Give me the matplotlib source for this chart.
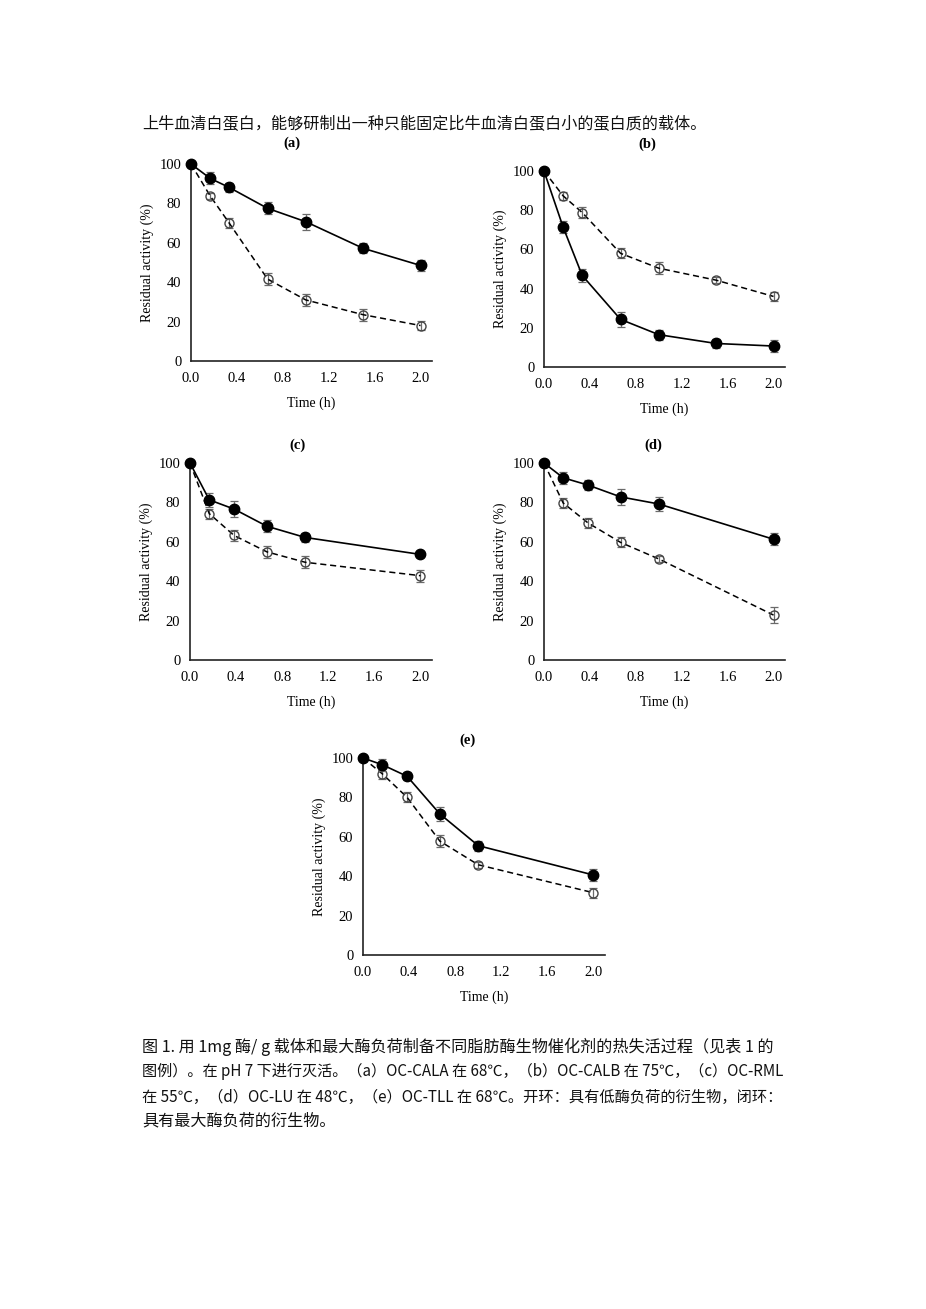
import matplotlib
matplotlib.use("Agg")
import matplotlib.pyplot as plt

# sampling times (h)
t_ab = [0, 0.167, 0.333, 0.667, 1.0, 1.5, 2.0]
t_cde = [0, 0.167, 0.383, 0.667, 1.0, 2.0]

panel_names = ["(a)", "(b)", "(c)", "(d)", "(e)"]

# closed circles: maximum enzyme loading
closed_a = [100, 92.7, 88.1, 77.5, 70.7, 57.2, 48.5]
closed_a_err = [0, 3, 2.5, 3, 4, 2.5, 3]
closed_b = [100, 71.3, 46.7, 24.3, 16.5, 12.0, 10.7]
closed_b_err = [0, 3, 3.5, 4, 2.5, 2.5, 3]
closed_c = [100, 81.3, 76.6, 67.9, 62.2, 53.6]
closed_c_err = [0, 3.5, 4, 3, 2.5, 1.5]
closed_d = [100, 92.5, 88.8, 82.8, 79.2, 61.3]
closed_d_err = [0, 3, 2.5, 4, 3.5, 3]
closed_e = [100, 96.6, 90.7, 71.6, 55.5, 40.6]
closed_e_err = [0, 3, 2, 3.5, 2.5, 3]

# open circles: low enzyme loading
open_a = [100, 83.8, 70.0, 41.6, 31.0, 23.5, 18.0]
open_a_err = [0, 1.5, 2.5, 3, 3, 3, 2.5]
open_b = [100, 87.3, 78.8, 58.0, 50.4, 44.3, 36.0]
open_b_err = [0, 2, 3, 2.5, 3, 1.5, 2.5]
open_c = [100, 74.3, 63.2, 54.9, 49.6, 42.8]
open_c_err = [0, 2.5, 3, 3, 3, 3]
open_d = [100, 79.7, 69.6, 59.7, 51.3, 22.8]
open_d_err = [0, 2.5, 2.5, 2.5, 1.5, 4]
open_e = [100, 92.0, 80.0, 57.8, 45.8, 31.6]
open_e_err = [0, 2.5, 2.5, 3, 1.5, 2.5]

x_ticks = [0.0, 0.4, 0.8, 1.2, 1.6, 2.0]
y_ticks = [0, 20, 40, 60, 80, 100]

header = "上牛血清白蛋白，能够研制出一种只能固定比牛血清白蛋白小的蛋白质的载体。"
caption = [
    "图 1. 用 1mg 酶/ g 载体和最大酶负荷制备不同脂肪酶生物催化剂的热失活过程（见表 1 的",
    "图例）。在 pH 7 下进行灭活。（a）OC-CALA 在 68℃，（b）OC-CALB 在 75℃，（c）OC-RML",
    "在 55℃，（d）OC-LU 在 48℃，（e）OC-TLL 在 68℃。开环：具有低酶负荷的衍生物，闭环：",
    "具有最大酶负荷的衍生物。",
]

W, H = 926, 1309
fig = plt.figure(figsize=(W / 100, H / 100), dpi=100)

# pixel boxes: left, right, y of 0, y of 100, title x, title y
boxes = [
    (191, 432, 361, 164, 292, 143),
    (544, 785, 367, 171, 647, 144),
    (190, 432, 660, 463, 298, 445),
    (544, 785, 660, 463, 653, 445),
    (363, 605, 955, 758, 468, 740),
]

series = [
    (t_ab, closed_a, closed_a_err, open_a, open_a_err),
    (t_ab, closed_b, closed_b_err, open_b, open_b_err),
    (t_cde, closed_c, closed_c_err, open_c, open_c_err),
    (t_cde, closed_d, closed_d_err, open_d, open_d_err),
    (t_cde, closed_e, closed_e_err, open_e, open_e_err),
]

serif = "Liberation Serif"
gray = "#6a6a6a"

for name, box, (t, cl, cle, op, ope) in zip(panel_names, boxes, series):
    l, r, y0, y1, tx, ty = box
    ax = fig.add_axes([l / W, 1 - y0 / H, (r - l) / W, (y0 - y1) / H])
    ax.errorbar(t, op, yerr=ope, fmt="none", ecolor=gray, elinewidth=0.9,
                capsize=3.2, capthick=0.9, zorder=2, clip_on=False)
    ax.plot(t, op, linestyle=(0, (4, 2.5)), color="black", linewidth=1.1,
            marker="o", markersize=6.5, markerfacecolor="none",
            markeredgecolor="#444444", markeredgewidth=1.0, zorder=3, clip_on=False)
    ax.errorbar(t, cl, yerr=cle, fmt="none", ecolor=gray, elinewidth=0.9,
                capsize=3.2, capthick=0.9, zorder=4, clip_on=False)
    ax.plot(t, cl, linestyle="-", color="black", linewidth=1.2,
            marker="o", markersize=7.5, markerfacecolor="black",
            markeredgecolor="black", zorder=5, clip_on=False)

    ax.set_xlim(0, 2.1)
    ax.set_ylim(0, 100)
    ax.set_xticks(x_ticks)
    ax.set_xticklabels([f"{v:.1f}" for v in x_ticks])
    ax.set_yticks(y_ticks)
    ax.tick_params(length=0, labelsize=10.5)
    ax.tick_params(axis="x", pad=8)
    ax.tick_params(axis="y", pad=7)
    for lab in ax.get_xticklabels() + ax.get_yticklabels():
        lab.set_fontfamily(serif)
    for s in ["top", "right"]:
        ax.spines[s].set_visible(False)
    for s in ["left", "bottom"]:
        ax.spines[s].set_linewidth(1.2)
        ax.spines[s].set_color("#222222")

    ax.set_xlabel("Time (h)", fontsize=10, family=serif)
    ax.set_ylabel("Residual activity (%)", fontsize=10, family=serif)
    ax.xaxis.set_label_coords(0.5, -36 / (y0 - y1))
    ax.yaxis.set_label_coords(-37 / (r - l), 0.5)

    fig.text(tx / W, 1 - ty / H, name, ha="center", va="center",
             fontsize=10.5, family=serif, fontweight="bold")

cjk = ["Noto Sans CJK SC"]
fig.text(142 / W, 1 - 125 / H, header, ha="left", va="center",
         fontsize=11.6, family=cjk, color="#111111")

# caption lines; shrink a line a little if it runs past the text block's right edge
renderer = fig.canvas.get_renderer()
cap_y = [1047, 1072, 1097, 1121]
x_left, x_right = 142, 783
for line, yy in zip(caption, cap_y):
    tt = fig.text(x_left / W, 1 - yy / H, line, ha="left", va="center",
                  fontsize=11.6, family=cjk, color="#111111")
    w = tt.get_window_extent(renderer).width
    if w > x_right - x_left:
        tt.set_fontsize(11.6 * (x_right - x_left) / w)

fig.savefig("out.png", dpi=100, facecolor="white")
